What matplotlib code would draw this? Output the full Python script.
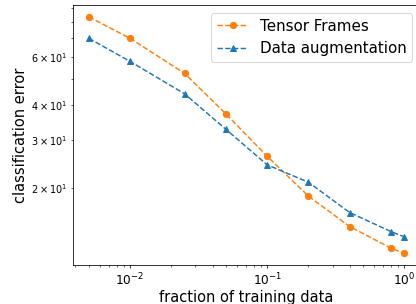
import numpy as np
import matplotlib
matplotlib.use('Agg')
import matplotlib.pyplot as plt

########## Data

fraction = [0.005, 0.01, 0.025, 0.05, 0.1, 0.2, 0.4, 0.8, 1.0]

tensor_frames = [83.8, 70.0, 52.2, 37.2, 26.1, 18.7, 14.5, 12.1, 11.6]
data_aug = [70.0, 57.7, 44.0, 32.7, 24.3, 21.0, 16.3, 13.9, 13.3]

########## Plot

fig = plt.figure(figsize=(416/70, 304/70), dpi=70)
ax = fig.add_axes([73/416, 39/304, 347/416, 260/304])

ax.plot(fraction, tensor_frames, '--o', color='C1', ms=6.5, label='Tensor Frames')
ax.plot(fraction, data_aug, '--^', color='C0', ms=6.5, label='Data augmentation')

ax.set_xscale('log')
ax.set_yscale('log')

ax.tick_params(which='major', labelsize=12.5)
ax.tick_params(which='minor', labelsize=10)

ax.set_xlabel('fraction of training data', size=15, labelpad=2)
ax.set_ylabel('classification error', size=15)
ax.legend(fontsize=15.5)

fig.savefig('out.png', dpi=70)
